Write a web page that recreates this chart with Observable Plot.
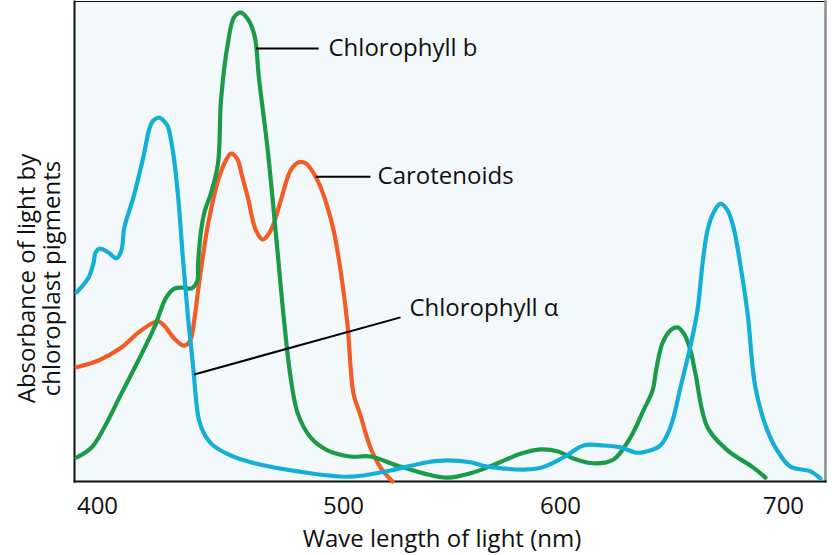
<!DOCTYPE html>
<html>
<head>
<meta charset="utf-8">
<script src="https://cdn.jsdelivr.net/npm/d3@7"></script>
<script src="https://cdn.jsdelivr.net/npm/@observablehq/plot@0.6"></script>
<style>
  html, body { margin: 0; padding: 0; background: #ffffff; }
  #chart { width: 832px; height: 555px; }
</style>
</head>
<body>
<div id="chart"></div>
<script>
// Tick labels on the wavelength axis (nm)
const wavelengthTicks = [400, 500, 600, 700];

// Chlorophyll a (blue): [wavelength nm, relative absorbance]
const chlorophyllA = [
  [391.5, 39.4], [396.4, 42.5], [398.4, 45.6], [399.2, 47.7], [400.8, 48.5],
  [404.5, 47.7], [407.7, 46.5], [409.7, 48.1], [410.9, 52.9], [414.6, 59.2],
  [418.6, 67.5], [421.1, 73.5], [422.7, 75.2], [425.1, 75.8], [427.5, 74.8],
  [428.7, 73.8], [430.8, 68.3], [432.8, 59.2], [434.8, 46.0], [436.8, 34.2],
  [438.9, 23.8], [440.1, 16.9], [441.3, 12.7], [443.7, 9.6], [447.0, 7.5],
  [454.3, 5.4], [462.3, 4.0], [481.4, 2.1], [503.2, 1.0], [521.7, 2.3],
  [538.7, 4.0], [547.9, 4.4], [558.5, 4.0], [566.4, 3.1], [589.4, 2.7],
  [601.3, 5.0], [610.3, 7.5], [619.3, 7.5], [626.9, 7.1], [634.5, 6.0],
  [640.4, 6.5], [644.8, 7.5], [649.3, 11.3], [653.8, 19.6], [658.3, 28.3],
  [661.4, 35.6], [663.7, 45.4], [665.9, 52.3], [668.6, 56.0], [671.7, 57.9],
  [674.9, 56.5], [677.6, 52.9], [680.7, 45.0], [683.9, 35.0], [687.4, 19.6],
  [692.8, 10.6], [697.8, 6.0], [703.1, 3.1], [712.1, 2.1], [716.6, 0.6]
];

// Chlorophyll b (green)
const chlorophyllB = [
  [391.5, 5.0], [397.6, 7.1], [402.8, 11.3], [409.7, 18.3], [416.6, 25.2],
  [423.1, 32.1], [427.9, 38.3], [431.2, 40.2], [434.8, 40.4], [438.1, 40.2],
  [440.5, 41.7], [440.9, 45.6], [442.1, 52.3], [443.7, 56.5], [446.2, 60.2],
  [449.0, 66.3], [450.2, 79.4], [453.0, 91.3], [455.5, 96.7], [458.3, 97.7],
  [461.5, 96.0], [464.0, 92.5], [465.6, 84.2], [469.2, 69.0], [472.5, 51.7],
  [475.7, 34.2], [478.5, 21.7], [481.4, 14.2], [486.6, 9.2], [493.5, 6.5],
  [503.2, 5.2], [512.4, 5.2], [524.9, 3.3], [536.9, 1.7], [547.9, 0.8],
  [558.5, 1.7], [571.0, 3.8], [581.6, 5.8], [590.8, 6.7], [598.6, 6.3],
  [605.8, 4.8], [614.8, 3.8], [623.8, 4.6], [631.4, 9.2], [637.2, 14.8],
  [641.3, 19.0], [643.0, 23.5], [645.7, 28.8], [649.3, 31.5], [652.5, 32.1],
  [655.6, 30.6], [658.3, 27.3], [660.5, 22.5], [665.9, 11.3], [674.9, 6.5],
  [686.5, 2.9], [691.9, 0.8]
];

// Carotenoids (orange)
const carotenoids = [
  [391.5, 23.8], [400.4, 25.2], [409.7, 27.9], [416.6, 31.0], [422.7, 33.1],
  [425.1, 33.3], [427.1, 32.5], [431.2, 29.8], [435.2, 28.3], [437.7, 29.4],
  [439.3, 33.5], [440.9, 39.8], [442.9, 47.1], [444.9, 53.5], [449.0, 62.7],
  [452.2, 66.9], [454.3, 68.3], [456.7, 67.3], [458.7, 63.8], [461.1, 59.2],
  [464.4, 52.3], [467.2, 50.4], [469.2, 51.3], [471.3, 53.3], [474.5, 58.5],
  [478.5, 64.8], [481.8, 66.5], [484.6, 66.3], [487.9, 64.2], [490.7, 61.3],
  [493.5, 57.1], [496.0, 52.3], [498.8, 44.0], [501.8, 32.9], [504.6, 18.3],
  [507.8, 13.8], [512.4, 7.1], [517.1, 2.9], [522.6, 0.0]
];

// Annotation labels and their leader lines (wavelength nm, absorbance)
const labelNames = ["Chlorophyll b", "Carotenoids", "Chlorophyll α"];
const labelX = [493.9, 515.7, 530.4];
const labelY = [90.2, 63.5, 36.0];
const leaderX1 = [464.4, 488.7, 439.3];
const leaderY1 = [90.2, 63.5, 22.3];
const leaderX2 = [489.9, 512.4, 526.3];
const leaderY2 = [90.2, 63.5, 34.2];

const xTitle = "Wave length of light (nm)";
const yTitle = "Absorbance of light by\nchloroplast pigments";

const toRows = (arr) => arr.map(([x, y]) => ({x, y}));
const labels = labelNames.map((name, i) => ({
  name, x: labelX[i], y: labelY[i],
  x1: leaderX1[i], y1: leaderY1[i], x2: leaderX2[i], y2: leaderY2[i]
}));

const BLUE = "#14afd6", GREEN = "#1b9b47", ORANGE = "#f25c26";
const FONT = "Open Sans";
const FS = 24;

const chart = Plot.plot({
  width: 832,
  height: 555,
  marginLeft: 74,
  marginRight: 7,
  marginTop: 1,
  marginBottom: 74,
  style: {fontFamily: FONT, fontSize: FS + "px", color: "#111", background: "#ffffff"},
  x: {type: "linear", domain: wavelengthTicks, range: [97, 343, 560, 783]},
  y: {domain: [0, 100], axis: null},
  marks: [
    Plot.frame({fill: "#f3f8fb", stroke: "none"}),
    Plot.frame({anchor: "top", stroke: "#111", strokeWidth: 1}),
    Plot.frame({anchor: "right", stroke: "#8c8c8c", strokeWidth: 2.5}),
    Plot.frame({anchor: "left", stroke: "#111", strokeWidth: 2}),
    Plot.frame({anchor: "bottom", stroke: "#111", strokeWidth: 2}),
    Plot.axisX({ticks: wavelengthTicks, tickSize: 0, tickPadding: 15, fontSize: FS, label: null, tickFormat: d3.format("d")}),
    Plot.line(toRows(carotenoids), {x: "x", y: "y", stroke: ORANGE, strokeWidth: 4.2, curve: "catmull-rom"}),
    Plot.line(toRows(chlorophyllB), {x: "x", y: "y", stroke: GREEN, strokeWidth: 4.2, curve: "catmull-rom"}),
    Plot.line(toRows(chlorophyllA), {x: "x", y: "y", stroke: BLUE, strokeWidth: 4.2, curve: "catmull-rom"}),
    Plot.link(labels, {x1: "x1", y1: "y1", x2: "x2", y2: "y2", stroke: "#000", strokeWidth: 2}),
    Plot.text(labels, {x: "x", y: "y", text: "name", textAnchor: "start", lineAnchor: "middle", fontSize: FS, fill: "#111"}),
    Plot.text([xTitle], {frameAnchor: "bottom", lineAnchor: "top", dy: 48, dx: -8, fontSize: FS, fill: "#111"}),
    Plot.text([yTitle], {frameAnchor: "left", rotate: -90, textAnchor: "middle", lineAnchor: "middle", lineHeight: 1.06, dx: -35, dy: 37, fontSize: FS, fill: "#111"})
  ]
});

document.getElementById("chart").appendChild(chart);
</script>
</body>
</html>
